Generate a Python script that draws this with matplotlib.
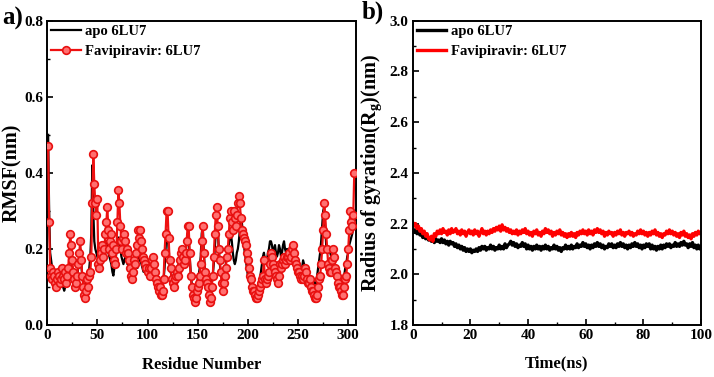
import numpy as np
import matplotlib
matplotlib.use("Agg")
import matplotlib.pyplot as plt
from matplotlib.ticker import MultipleLocator

plt.rcParams['font.family'] = ['Liberation Serif', 'DejaVu Serif']
plt.rcParams['font.weight'] = 'bold'
plt.rcParams['mathtext.fontset'] = 'custom'
plt.rcParams['mathtext.rm'] = 'Liberation Serif:bold'
plt.rcParams['mathtext.bf'] = 'Liberation Serif:bold'
plt.rcParams['mathtext.it'] = 'Liberation Serif:bold'

# ---------------- Data: RMSF per residue (panel a) ----------------
rmsf_fav = [
    0.47, 0.27, 0.15, 0.13, 0.12, 0.14, 0.13, 0.11, 0.10, 0.12,
    0.14, 0.13, 0.11, 0.12, 0.15, 0.13, 0.12, 0.14, 0.11, 0.13,
    0.15, 0.19, 0.24, 0.21, 0.17, 0.14, 0.12, 0.10, 0.11, 0.13,
    0.16, 0.19, 0.22, 0.17, 0.13, 0.10, 0.08, 0.07, 0.09, 0.12,
    0.10, 0.13, 0.14, 0.18, 0.32, 0.45, 0.37, 0.32, 0.29, 0.33,
    0.16, 0.15, 0.17, 0.19, 0.21, 0.18, 0.20, 0.24, 0.27, 0.31,
    0.25, 0.20, 0.22, 0.24, 0.19, 0.21, 0.17, 0.16, 0.20, 0.27,
    0.355, 0.32, 0.26, 0.22, 0.20, 0.23, 0.24, 0.22, 0.19, 0.20,
    0.19, 0.17, 0.15, 0.13, 0.12, 0.14, 0.17, 0.16, 0.19, 0.21,
    0.25, 0.23, 0.25, 0.22, 0.20, 0.18, 0.17, 0.16, 0.15, 0.14,
    0.15, 0.13, 0.15, 0.17, 0.18, 0.16, 0.14, 0.12, 0.11, 0.10,
    0.09, 0.10, 0.08, 0.08, 0.09, 0.12, 0.19, 0.24, 0.30, 0.30,
    0.23, 0.17, 0.15, 0.12, 0.11, 0.10, 0.12, 0.13, 0.14, 0.13,
    0.15, 0.17, 0.19, 0.20, 0.18, 0.16, 0.17, 0.19, 0.22, 0.26,
    0.26, 0.19, 0.13, 0.10, 0.08, 0.07, 0.06, 0.07, 0.09, 0.10,
    0.11, 0.13, 0.16, 0.22, 0.26, 0.19, 0.14, 0.12, 0.11, 0.10,
    0.08, 0.06, 0.07, 0.10, 0.13, 0.18, 0.24, 0.29, 0.31, 0.26,
    0.20, 0.17, 0.14, 0.11, 0.09, 0.11, 0.13, 0.15, 0.18, 0.20,
    0.24, 0.28, 0.30, 0.27, 0.25, 0.30, 0.28, 0.26, 0.29, 0.32,
    0.34, 0.32, 0.28, 0.25, 0.24, 0.23, 0.22, 0.21, 0.19, 0.17,
    0.15, 0.13, 0.12, 0.10, 0.09, 0.09, 0.08, 0.07, 0.07, 0.08,
    0.09, 0.10, 0.11, 0.12, 0.13, 0.17, 0.12, 0.11, 0.12, 0.13,
    0.14, 0.16, 0.19, 0.18, 0.16, 0.15, 0.14, 0.13, 0.12, 0.11,
    0.13, 0.16, 0.15, 0.16, 0.17, 0.18, 0.16, 0.17, 0.18, 0.18,
    0.19, 0.17, 0.18, 0.20, 0.21, 0.19, 0.17, 0.16, 0.15, 0.14,
    0.14, 0.13, 0.12, 0.13, 0.12, 0.13, 0.15, 0.14, 0.12, 0.11,
    0.11, 0.12, 0.10, 0.09, 0.09, 0.08, 0.07, 0.07, 0.08, 0.10,
    0.12, 0.13, 0.16, 0.20, 0.25, 0.32, 0.29, 0.24, 0.20, 0.16,
    0.15, 0.14, 0.14, 0.17, 0.20, 0.18, 0.15, 0.14, 0.13, 0.11,
    0.10, 0.10, 0.09, 0.08, 0.08, 0.10, 0.12, 0.13, 0.16, 0.20,
    0.25, 0.30, 0.27, 0.26, 0.29, 0.40,
]
rmsf_apo = [
    0.50, 0.30, 0.19, 0.17, 0.15, 0.14, 0.13, 0.12, 0.12, 0.11,
    0.11, 0.12, 0.12, 0.11, 0.10, 0.10, 0.09, 0.10, 0.12, 0.12,
    0.13, 0.16, 0.20, 0.18, 0.15, 0.13, 0.11, 0.11, 0.12, 0.13,
    0.15, 0.17, 0.20, 0.16, 0.13, 0.11, 0.10, 0.10, 0.11, 0.12,
    0.13, 0.15, 0.18, 0.24, 0.42, 0.30, 0.22, 0.20, 0.19, 0.18,
    0.17, 0.18, 0.18, 0.19, 0.20, 0.18, 0.19, 0.21, 0.22, 0.20,
    0.19, 0.18, 0.17, 0.16, 0.14, 0.13, 0.15, 0.17, 0.19, 0.21,
    0.23, 0.22, 0.20, 0.18, 0.17, 0.16, 0.17, 0.18, 0.17, 0.16,
    0.16, 0.15, 0.15, 0.14, 0.15, 0.16, 0.17, 0.16, 0.15, 0.15,
    0.17, 0.18, 0.17, 0.16, 0.15, 0.14, 0.14, 0.15, 0.14, 0.13,
    0.13, 0.14, 0.15, 0.16, 0.15, 0.14, 0.13, 0.12, 0.12, 0.11,
    0.11, 0.11, 0.10, 0.10, 0.11, 0.12, 0.15, 0.20, 0.25, 0.24,
    0.20, 0.16, 0.14, 0.13, 0.12, 0.12, 0.13, 0.14, 0.14, 0.15,
    0.16, 0.17, 0.18, 0.18, 0.17, 0.16, 0.17, 0.19, 0.22, 0.24,
    0.23, 0.18, 0.14, 0.11, 0.10, 0.09, 0.09, 0.10, 0.11, 0.12,
    0.13, 0.15, 0.18, 0.24, 0.26, 0.20, 0.15, 0.13, 0.12, 0.11,
    0.10, 0.09, 0.10, 0.11, 0.13, 0.16, 0.20, 0.24, 0.27, 0.25,
    0.20, 0.16, 0.14, 0.12, 0.11, 0.12, 0.14, 0.16, 0.18, 0.19,
    0.21, 0.23, 0.24, 0.22, 0.19, 0.17, 0.16, 0.17, 0.19, 0.20,
    0.22, 0.25, 0.28, 0.27, 0.24, 0.21, 0.19, 0.17, 0.15, 0.13,
    0.12, 0.11, 0.10, 0.10, 0.09, 0.09, 0.09, 0.09, 0.10, 0.10,
    0.11, 0.12, 0.14, 0.16, 0.18, 0.19, 0.17, 0.16, 0.17, 0.19,
    0.20, 0.22, 0.22, 0.21, 0.19, 0.20, 0.21, 0.19, 0.18, 0.19,
    0.21, 0.20, 0.18, 0.19, 0.21, 0.22, 0.20, 0.19, 0.20, 0.19,
    0.18, 0.19, 0.18, 0.17, 0.18, 0.17, 0.16, 0.17, 0.16, 0.15,
    0.16, 0.15, 0.14, 0.15, 0.17, 0.16, 0.15, 0.14, 0.14, 0.13,
    0.13, 0.12, 0.12, 0.11, 0.12, 0.11, 0.10, 0.11, 0.13, 0.15,
    0.17, 0.19, 0.22, 0.26, 0.30, 0.31, 0.26, 0.21, 0.19, 0.20,
    0.20, 0.19, 0.18, 0.17, 0.16, 0.16, 0.15, 0.14, 0.13, 0.12,
    0.11, 0.10, 0.10, 0.10, 0.11, 0.13, 0.15, 0.16, 0.18, 0.19,
    0.21, 0.22, 0.23, 0.24, 0.26, 0.30,
]
residues = list(range(1, len(rmsf_fav) + 1))

# ---------------- Data: Radius of gyration vs time (panel b) ----------------
rg_fav = [
    2.205, 2.19, 2.20, 2.18, 2.19, 2.17, 2.18, 2.16, 2.17, 2.15,
    2.16, 2.14, 2.135, 2.15, 2.13, 2.16, 2.15, 2.17, 2.16, 2.175,
    2.16, 2.18, 2.165, 2.17, 2.155, 2.175, 2.16, 2.18, 2.165, 2.17,
    2.18, 2.16, 2.17, 2.155, 2.175, 2.16, 2.17, 2.15, 2.165, 2.175,
    2.16, 2.17, 2.155, 2.175, 2.16, 2.17, 2.15, 2.165, 2.18, 2.16,
    2.17, 2.155, 2.17, 2.16, 2.175, 2.165, 2.18, 2.17, 2.185, 2.175,
    2.19, 2.17, 2.195, 2.175, 2.185, 2.17, 2.18, 2.165, 2.175, 2.16,
    2.17, 2.16, 2.175, 2.155, 2.17, 2.16, 2.175, 2.165, 2.18, 2.16,
    2.17, 2.155, 2.165, 2.15, 2.17, 2.16, 2.175, 2.155, 2.165, 2.15,
    2.17, 2.16, 2.18, 2.165, 2.175, 2.16, 2.17, 2.15, 2.165, 2.155,
    2.17, 2.16, 2.175, 2.155, 2.165, 2.15, 2.16, 2.145, 2.16, 2.15,
    2.165, 2.15, 2.16, 2.145, 2.165, 2.155, 2.17, 2.16, 2.175, 2.16,
    2.17, 2.155, 2.175, 2.16, 2.17, 2.155, 2.175, 2.165, 2.18, 2.165,
    2.175, 2.16, 2.17, 2.15, 2.165, 2.155, 2.17, 2.16, 2.165, 2.15,
    2.165, 2.155, 2.17, 2.16, 2.175, 2.155, 2.165, 2.15, 2.165, 2.16,
    2.17, 2.155, 2.165, 2.15, 2.16, 2.155, 2.17, 2.16, 2.175, 2.16,
    2.17, 2.155, 2.165, 2.15, 2.165, 2.155, 2.17, 2.16, 2.175, 2.155,
    2.165, 2.15, 2.16, 2.145, 2.16, 2.155, 2.17, 2.16, 2.175, 2.16,
    2.17, 2.155, 2.165, 2.15, 2.16, 2.145, 2.165, 2.155, 2.17, 2.15,
    2.16, 2.145, 2.155, 2.14, 2.16, 2.15, 2.165, 2.155, 2.17, 2.16,
    2.165,
]
rg_apo = [
    2.18, 2.165, 2.175, 2.16, 2.17, 2.155, 2.16, 2.145, 2.155, 2.14,
    2.15, 2.135, 2.145, 2.13, 2.14, 2.125, 2.14, 2.13, 2.135, 2.125,
    2.14, 2.125, 2.135, 2.12, 2.13, 2.115, 2.13, 2.12, 2.125, 2.11,
    2.12, 2.105, 2.115, 2.10, 2.11, 2.095, 2.105, 2.09, 2.10, 2.09,
    2.10, 2.085, 2.095, 2.09, 2.10, 2.09, 2.105, 2.095, 2.11, 2.10,
    2.11, 2.095, 2.105, 2.10, 2.115, 2.10, 2.11, 2.095, 2.105, 2.10,
    2.115, 2.10, 2.11, 2.10, 2.12, 2.105, 2.115, 2.12, 2.13, 2.115,
    2.125, 2.11, 2.12, 2.105, 2.115, 2.11, 2.125, 2.11, 2.12, 2.10,
    2.115, 2.10, 2.11, 2.095, 2.11, 2.10, 2.115, 2.10, 2.11, 2.095,
    2.11, 2.10, 2.115, 2.10, 2.11, 2.095, 2.105, 2.10, 2.115, 2.10,
    2.11, 2.095, 2.105, 2.09, 2.105, 2.10, 2.115, 2.10, 2.11, 2.10,
    2.115, 2.10, 2.11, 2.105, 2.12, 2.105, 2.115, 2.11, 2.125, 2.11,
    2.12, 2.105, 2.115, 2.10, 2.115, 2.105, 2.12, 2.11, 2.125, 2.11,
    2.12, 2.105, 2.115, 2.10, 2.11, 2.105, 2.12, 2.11, 2.12, 2.105,
    2.115, 2.105, 2.12, 2.11, 2.125, 2.11, 2.12, 2.105, 2.115, 2.10,
    2.115, 2.105, 2.12, 2.11, 2.125, 2.11, 2.12, 2.105, 2.115, 2.10,
    2.115, 2.105, 2.12, 2.11, 2.12, 2.10, 2.115, 2.10, 2.11, 2.095,
    2.11, 2.10, 2.115, 2.10, 2.115, 2.105, 2.12, 2.11, 2.12, 2.105,
    2.115, 2.11, 2.125, 2.11, 2.12, 2.11, 2.125, 2.115, 2.13, 2.115,
    2.12, 2.105, 2.12, 2.11, 2.125, 2.105, 2.115, 2.10, 2.115, 2.10,
    2.11,
]
time_ns = [i * 0.5 for i in range(len(rg_fav))]

labels = ["apo 6LU7", "Favipiravir: 6LU7"]

# ---------------- Figure ----------------
fig = plt.figure(figsize=(7.14, 3.77), dpi=100)
axA = fig.add_axes([0.066, 0.138, 0.433, 0.807])
axB = fig.add_axes([0.578, 0.138, 0.404, 0.807])

tickfont = 11
xlabfont = 12
ylabfont = 14.5
legfont = 10.5

# Panel a
axA.plot(residues, rmsf_apo, color='black', lw=1.6, label=labels[0], zorder=2)
axA.plot(residues, rmsf_fav, color='#ee1111', lw=1.6, marker='o', ms=5.5,
         mfc='#ff7070', mec='#e81010', mew=1.2, label=labels[1], zorder=3)
axA.set_xlim(0, 308)
axA.set_ylim(0.0, 0.8)
axA.xaxis.set_major_locator(MultipleLocator(50))
axA.xaxis.set_minor_locator(MultipleLocator(25))
axA.yaxis.set_major_locator(MultipleLocator(0.2))
axA.yaxis.set_minor_locator(MultipleLocator(0.1))
axA.set_xlabel("Residue Number", fontsize=xlabfont, fontweight='bold')
axA.set_ylabel("RMSF(nm)", fontsize=ylabfont, fontweight='bold')
axA.xaxis.set_label_coords(0.5, -0.105)
axA.yaxis.set_label_coords(-0.08, 0.5)

# Panel b
axB.plot(time_ns, rg_apo, color='black', lw=2.4, label=labels[0])
axB.plot(time_ns, rg_fav, color='#ff0000', lw=2.4, label=labels[1])
axB.set_xlim(0, 100)
axB.set_ylim(1.8, 3.0)
axB.xaxis.set_major_locator(MultipleLocator(20))
axB.xaxis.set_minor_locator(MultipleLocator(10))
axB.yaxis.set_major_locator(MultipleLocator(0.2))
axB.yaxis.set_minor_locator(MultipleLocator(0.1))
axB.set_xlabel("Time(ns)", fontsize=xlabfont, fontweight='bold')
axB.set_ylabel(r"Radius of gyration(R$_{\mathrm{g}}$)(nm)", fontsize=ylabfont,
               fontweight='bold')
axB.xaxis.set_label_coords(0.5, -0.1)
axB.yaxis.set_label_coords(-0.1, 0.5)

for ax in (axA, axB):
    for sp in ax.spines.values():
        sp.set_linewidth(1.4)
    ax.tick_params(axis='both', which='major', direction='in', length=4, width=1.2,
                   labelsize=tickfont, pad=3)
    ax.tick_params(axis='both', which='minor', direction='in', length=2.5, width=1.0)
    for t in ax.get_xticklabels() + ax.get_yticklabels():
        t.set_fontweight('bold')
    leg = ax.legend(loc='upper left', frameon=False,
                    handlelength=2.0, handletextpad=0.3, borderaxespad=0.0,
                    labelspacing=0.45, borderpad=0.3,
                    prop={'weight': 'bold', 'size': legfont})

fig.text(0.003, 0.95, "a)", fontsize=18, fontweight='bold', va='center', ha='left')
fig.text(0.507, 0.968, "b)", fontsize=18, fontweight='bold', va='center', ha='left')

fig.savefig("out.png", dpi=100)
